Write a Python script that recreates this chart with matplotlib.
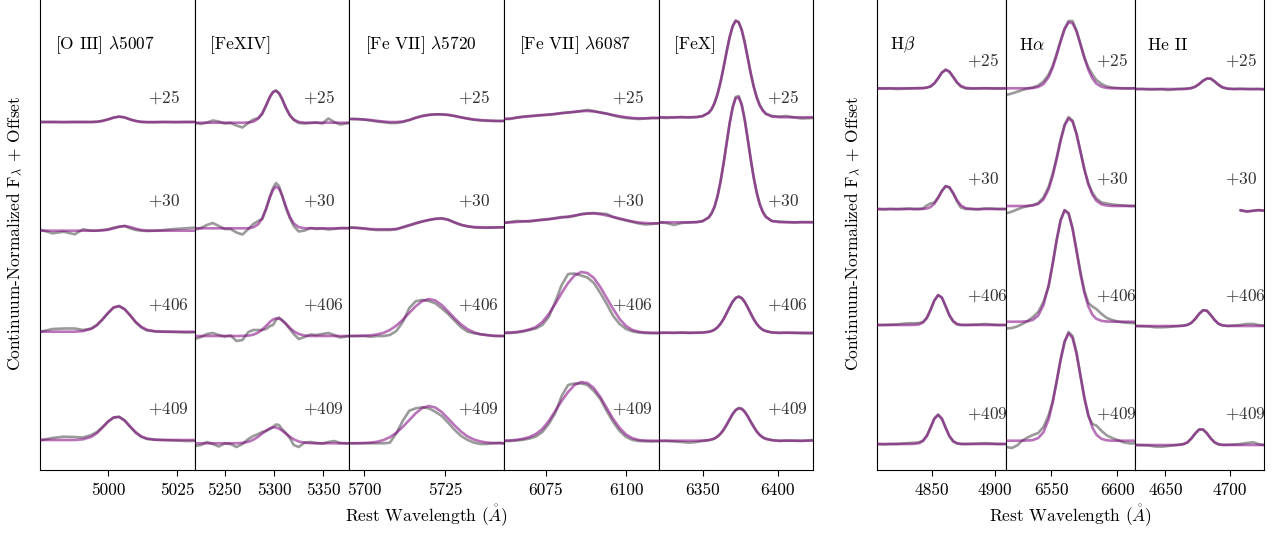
import numpy as np
import matplotlib
matplotlib.use('Agg')
import matplotlib.pyplot as plt

plt.rcParams['font.family'] = 'serif'
plt.rcParams['font.serif'] = ['cmr10']
plt.rcParams['mathtext.fontset'] = 'cm'
plt.rcParams['axes.formatter.use_mathtext'] = True
plt.rcParams['axes.unicode_minus'] = False

# ---------------- data ----------------
epochs = ['+25', '+30', '+406', '+409']
left_offsets = [2.48, 1.41, 0.37, -0.71]
right_offsets = [2.815, 1.625, 0.46, -0.73]

# [O III] 5007
oiii_wave = [4976, 4980, 4984, 4988, 4991, 4994, 4996, 4998, 5000, 5002, 5004,
             5006, 5008, 5010, 5012, 5014, 5017, 5020, 5024, 5028, 5031]
oiii_fit = [
    [1.0, 1.0, 1.0, 1.0, 1.0, 1.0, 1.002, 1.01, 1.025, 1.043, 1.053, 1.045, 1.025, 1.01, 1.002, 1.0, 1.0, 1.0, 1.0, 1.0, 1.0],
    [0.983, 0.983, 0.983, 0.983, 0.983, 0.983, 0.984, 0.986, 0.992, 1.006, 1.022, 1.03, 1.02, 1.003, 0.99, 0.984, 0.983, 0.983, 0.983, 0.983, 0.983],
    [1.013, 1.013, 1.013, 1.013, 1.019, 1.042, 1.078, 1.136, 1.20, 1.255, 1.269, 1.237, 1.176, 1.11, 1.062, 1.033, 1.017, 1.013, 1.013, 1.013, 1.013],
    [1.01, 1.01, 1.01, 1.01, 1.017, 1.041, 1.078, 1.133, 1.193, 1.235, 1.24, 1.204, 1.145, 1.088, 1.047, 1.025, 1.013, 1.01, 1.01, 1.01, 1.01],
]
oiii_obs = [
    [1.0, 1.0, 0.998, 1.0, 1.0, 1.0, 1.003, 1.012, 1.027, 1.045, 1.055, 1.046, 1.026, 1.01, 1.0, 0.997, 0.997, 1.0, 0.998, 1.0, 1.0],
    [0.99, 0.957, 0.973, 0.947, 0.997, 0.983, 0.983, 0.99, 0.997, 1.013, 1.023, 1.03, 1.007, 0.99, 0.983, 0.98, 0.983, 0.99, 1.0, 1.007, 1.013],
    [1.015, 1.04, 1.045, 1.045, 1.03, 1.045, 1.08, 1.135, 1.2, 1.255, 1.27, 1.238, 1.175, 1.105, 1.055, 1.025, 1.015, 1.013, 1.01, 1.005, 1.007],
    [1.01, 1.03, 1.043, 1.04, 1.035, 1.06, 1.09, 1.14, 1.195, 1.235, 1.243, 1.205, 1.14, 1.08, 1.04, 1.02, 1.012, 1.01, 1.005, 1.0, 1.0],
]

# [FeXIV]
fexiv_wave = [5220, 5226, 5232, 5238, 5244, 5250, 5256, 5262, 5268, 5274, 5279, 5284, 5288, 5292, 5296, 5299,
              5302, 5305, 5308, 5312, 5316, 5320, 5325, 5331, 5337, 5343, 5349, 5355, 5361, 5367, 5376]
fexiv_fit = [
    [0.993, 0.993, 0.993, 0.993, 0.993, 0.993, 0.993, 0.993, 0.993, 0.995, 1.003, 1.033, 1.086, 1.167, 1.254, 1.30,
     1.312, 1.287, 1.233, 1.145, 1.07, 1.025, 1.001, 0.993, 0.993, 0.993, 0.993, 0.993, 0.993, 0.993, 0.993],
    [1.007, 1.007, 1.007, 1.007, 1.007, 1.007, 1.007, 1.007, 1.007, 1.007, 1.017, 1.047, 1.106, 1.204, 1.32, 1.391,
     1.423, 1.404, 1.342, 1.227, 1.123, 1.056, 1.019, 1.008, 1.007, 1.007, 1.007, 1.007, 1.007, 1.007, 1.007],
    [0.97, 0.97, 0.97, 0.97, 0.97, 0.97, 0.97, 0.97, 0.971, 0.974, 0.983, 1.005, 1.034, 1.072, 1.112, 1.135,
     1.146, 1.144, 1.128, 1.093, 1.052, 1.018, 0.99, 0.975, 0.97, 0.97, 0.97, 0.97, 0.97, 0.97, 0.97],
    [0.977, 0.977, 0.977, 0.977, 0.977, 0.977, 0.977, 0.978, 0.981, 0.992, 1.012, 1.043, 1.074, 1.105, 1.128, 1.137,
     1.135, 1.124, 1.105, 1.074, 1.043, 1.017, 0.995, 0.983, 0.978, 0.977, 0.977, 0.977, 0.977, 0.977, 0.977],
]
fexiv_obs = [
    [0.99, 0.98, 0.995, 1.015, 1.005, 0.985, 0.99, 0.965, 0.945, 0.99, 1.025, 1.04, 1.08, 1.165, 1.255, 1.30,
     1.315, 1.29, 1.235, 1.14, 1.065, 1.02, 0.99, 0.985, 0.99, 0.995, 0.985, 1.035, 1.0, 0.975, 0.99],
    [0.995, 1.01, 1.04, 1.06, 1.03, 1.0, 1.0, 0.965, 0.945, 1.0, 1.05, 1.08, 1.10, 1.2, 1.33, 1.41,
     1.46, 1.43, 1.34, 1.21, 1.11, 1.03, 0.975, 0.985, 1.01, 1.0, 1.005, 0.995, 1.0, 1.01, 1.01],
    [0.94, 0.96, 0.99, 1.0, 0.98, 0.965, 0.975, 0.92, 0.93, 1.01, 1.03, 1.03, 1.03, 1.04, 1.07, 1.08,
     1.13, 1.155, 1.13, 1.09, 1.04, 0.99, 0.94, 0.96, 0.985, 0.98, 0.99, 1.0, 0.98, 0.955, 0.97],
    [0.95, 0.96, 0.99, 0.97, 0.945, 0.975, 0.97, 0.94, 0.97, 1.02, 1.05, 1.07, 1.09, 1.10, 1.12, 1.14,
     1.165, 1.16, 1.12, 1.08, 1.03, 0.96, 0.94, 0.985, 0.99, 0.98, 0.975, 0.99, 1.0, 0.98, 0.975],
]

# [Fe VII] 5720
fevii_a_wave = [5696, 5698, 5700, 5702, 5704, 5706, 5708, 5710, 5712, 5714, 5716, 5718, 5720,
                5722, 5724, 5726, 5728, 5730, 5732, 5734, 5736, 5738, 5740, 5742, 5743]
fevii_a_fit = [
    [1.03, 1.028, 1.025, 1.02, 1.012, 1.005, 1.0, 1.0, 1.005, 1.02, 1.04, 1.058, 1.07, 1.076, 1.077, 1.072, 1.06, 1.045, 1.035, 1.025, 1.02, 1.015, 1.012, 1.01, 1.01],
    [1.013, 1.01, 1.005, 1.0, 0.997, 0.997, 0.997, 1.0, 1.015, 1.035, 1.055, 1.075, 1.09, 1.103, 1.105, 1.09, 1.065, 1.042, 1.028, 1.02, 1.017, 1.015, 1.015, 1.016, 1.017],
    [0.97, 0.971, 0.973, 0.977, 0.985, 1.001, 1.03, 1.074, 1.133, 1.201, 1.268, 1.319, 1.34, 1.326, 1.28, 1.215, 1.146, 1.085, 1.038, 1.006, 0.987, 0.978, 0.973, 0.97, 0.97],
    [0.977, 0.978, 0.98, 0.984, 0.992, 1.009, 1.038, 1.082, 1.141, 1.21, 1.278, 1.33, 1.35, 1.335, 1.29, 1.224, 1.155, 1.093, 1.045, 1.014, 0.995, 0.985, 0.98, 0.977, 0.977],
]
fevii_a_obs = [
    [1.03, 1.03, 1.024, 1.015, 1.005, 0.998, 0.99, 0.99, 1.0, 1.02, 1.045, 1.062, 1.072, 1.077, 1.075, 1.07, 1.06, 1.047, 1.033, 1.022, 1.015, 1.012, 1.01, 1.01, 1.012],
    [1.015, 1.012, 1.005, 0.995, 0.99, 0.99, 0.99, 0.997, 1.02, 1.04, 1.06, 1.075, 1.09, 1.1, 1.108, 1.095, 1.065, 1.04, 1.025, 1.015, 1.012, 1.012, 1.015, 1.017, 1.017],
    [0.97, 0.97, 0.97, 0.963, 0.97, 0.97, 0.98, 1.02, 1.11, 1.25, 1.318, 1.33, 1.32, 1.297, 1.247, 1.19, 1.123, 1.057, 1.013, 0.997, 0.987, 0.98, 0.97, 0.97, 0.97],
    [0.977, 0.977, 0.977, 0.977, 0.977, 0.977, 0.983, 1.077, 1.203, 1.303, 1.327, 1.337, 1.327, 1.293, 1.25, 1.183, 1.11, 1.05, 1.01, 0.983, 0.97, 0.97, 0.977, 0.983, 0.977],
]

# [Fe VII] 6087
fevii_b_wave = [6062, 6064, 6066, 6068, 6070, 6072, 6074, 6076, 6078, 6080, 6082, 6084, 6086,
                6088, 6090, 6092, 6094, 6096, 6098, 6100, 6102, 6104, 6106, 6108, 6110]
fevii_b_fit = [
    [1.03, 1.035, 1.042, 1.05, 1.058, 1.065, 1.07, 1.075, 1.08, 1.088, 1.095, 1.102, 1.108, 1.11, 1.105, 1.095, 1.082, 1.07, 1.058, 1.048, 1.04, 1.037, 1.037, 1.04, 1.04],
    [1.063, 1.066, 1.07, 1.075, 1.08, 1.085, 1.09, 1.097, 1.105, 1.115, 1.125, 1.135, 1.145, 1.155, 1.155, 1.148, 1.135, 1.12, 1.105, 1.09, 1.075, 1.065, 1.06, 1.057, 1.057],
    [1.003, 1.005, 1.01, 1.02, 1.035, 1.06, 1.11, 1.19, 1.29, 1.40, 1.50, 1.575, 1.61, 1.60, 1.55, 1.46, 1.35, 1.24, 1.14, 1.07, 1.03, 1.012, 1.005, 1.003, 1.003],
    [1.003, 1.006, 1.012, 1.022, 1.04, 1.07, 1.12, 1.20, 1.30, 1.40, 1.49, 1.56, 1.59, 1.58, 1.53, 1.44, 1.33, 1.22, 1.13, 1.065, 1.028, 1.01, 1.005, 1.003, 1.003],
]
fevii_b_obs = [
    [1.03, 1.03, 1.045, 1.055, 1.058, 1.062, 1.068, 1.072, 1.08, 1.09, 1.095, 1.1, 1.11, 1.12, 1.11, 1.095, 1.085, 1.065, 1.05, 1.04, 1.035, 1.03, 1.035, 1.04, 1.04],
    [1.06, 1.07, 1.08, 1.078, 1.075, 1.085, 1.095, 1.1, 1.11, 1.12, 1.118, 1.13, 1.15, 1.155, 1.16, 1.155, 1.15, 1.12, 1.1, 1.085, 1.07, 1.055, 1.045, 1.05, 1.057],
    [1.0, 1.0, 1.005, 1.015, 1.03, 1.045, 1.08, 1.16, 1.31, 1.48, 1.59, 1.595, 1.575, 1.555, 1.50, 1.40, 1.29, 1.17, 1.09, 1.04, 1.015, 1.005, 1.0, 0.997, 0.997],
    [1.0, 1.0, 1.005, 1.012, 1.025, 1.045, 1.09, 1.17, 1.28, 1.45, 1.56, 1.575, 1.575, 1.56, 1.50, 1.42, 1.30, 1.19, 1.10, 1.04, 1.01, 1.0, 0.997, 0.995, 0.997],
]

# [FeX]
fex_wave = [6321, 6326, 6331, 6336, 6341, 6346, 6350, 6354, 6356, 6358, 6360, 6362, 6364, 6366, 6368, 6370, 6372,
            6374, 6376, 6378, 6380, 6382, 6384, 6386, 6388, 6390, 6392, 6396, 6401, 6406, 6411, 6416, 6423]
fex_fit = [
    [1.047, 1.047, 1.047, 1.047, 1.047, 1.049, 1.058, 1.092, 1.130, 1.192, 1.283, 1.403, 1.548, 1.703, 1.847, 1.957, 2.010,
     1.996, 1.919, 1.793, 1.641, 1.487, 1.351, 1.243, 1.164, 1.113, 1.081, 1.055, 1.048, 1.047, 1.047, 1.047, 1.047],
    [1.067, 1.067, 1.067, 1.067, 1.067, 1.068, 1.077, 1.114, 1.158, 1.228, 1.334, 1.479, 1.659, 1.859, 2.055, 2.214, 2.307,
     2.316, 2.239, 2.090, 1.900, 1.698, 1.512, 1.360, 1.246, 1.169, 1.121, 1.080, 1.068, 1.067, 1.067, 1.067, 1.067],
    [1.003, 1.003, 1.003, 1.003, 1.003, 1.003, 1.004, 1.011, 1.019, 1.033, 1.057, 1.093, 1.140, 1.197, 1.257, 1.312, 1.349,
     1.363, 1.349, 1.312, 1.257, 1.197, 1.140, 1.093, 1.057, 1.033, 1.019, 1.006, 1.003, 1.003, 1.003, 1.003, 1.003],
    [1.003, 1.003, 1.003, 1.003, 1.003, 1.003, 1.004, 1.009, 1.015, 1.026, 1.046, 1.075, 1.115, 1.164, 1.219, 1.270, 1.308,
     1.326, 1.320, 1.291, 1.245, 1.191, 1.139, 1.093, 1.059, 1.035, 1.020, 1.007, 1.003, 1.003, 1.003, 1.003, 1.003],
]
fex_obs = [
    [1.045, 1.04, 1.045, 1.05, 1.045, 1.05, 1.06, 1.09, 1.125, 1.19, 1.28, 1.405, 1.55, 1.705, 1.85, 1.96, 2.015,
     2.0, 1.925, 1.80, 1.645, 1.49, 1.355, 1.25, 1.17, 1.12, 1.085, 1.06, 1.055, 1.06, 1.045, 1.035, 1.04],
    [1.065, 1.06, 1.04, 1.06, 1.065, 1.07, 1.08, 1.115, 1.155, 1.22, 1.33, 1.48, 1.66, 1.86, 2.06, 2.22, 2.32,
     2.33, 2.25, 2.10, 1.905, 1.70, 1.515, 1.365, 1.25, 1.175, 1.125, 1.08, 1.075, 1.07, 1.065, 1.07, 1.068],
    [1.0, 1.003, 1.0, 1.005, 1.0, 1.003, 1.005, 1.012, 1.02, 1.035, 1.058, 1.095, 1.14, 1.2, 1.26, 1.315, 1.352,
     1.365, 1.35, 1.31, 1.255, 1.195, 1.135, 1.088, 1.055, 1.032, 1.02, 1.005, 1.0, 1.003, 1.0, 0.997, 0.995],
    [1.0, 1.0, 0.995, 0.99, 0.983, 0.99, 1.0, 1.008, 1.015, 1.025, 1.045, 1.072, 1.11, 1.16, 1.215, 1.27, 1.31,
     1.33, 1.325, 1.295, 1.25, 1.195, 1.145, 1.097, 1.062, 1.038, 1.025, 1.01, 1.0, 1.005, 1.003, 1.0, 1.01],
]

# H beta
hb_wave = [4807, 4812, 4817, 4822, 4827, 4832, 4836, 4840, 4843, 4846, 4849, 4852, 4855,
           4858, 4861, 4864, 4867, 4870, 4873, 4877, 4882, 4887, 4892, 4897, 4902, 4908]
hb_fit = [
    [1.002, 1.002, 1.002, 1.002, 1.002, 1.002, 1.002, 1.002, 1.003, 1.008, 1.021, 1.053, 1.103, 1.158, 1.185, 1.166, 1.115, 1.061, 1.026, 1.007, 1.002, 1.002, 1.002, 1.002, 1.002, 1.002],
    [0.985, 0.985, 0.985, 0.985, 0.985, 0.985, 0.985, 0.985, 0.986, 0.99, 1.004, 1.037, 1.096, 1.166, 1.212, 1.202, 1.144, 1.074, 1.023, 0.993, 0.985, 0.985, 0.985, 0.985, 0.985, 0.985],
    [0.99, 0.99, 0.99, 0.99, 0.99, 0.99, 0.991, 0.996, 1.014, 1.059, 1.14, 1.234, 1.288, 1.264, 1.178, 1.087, 1.028, 1.001, 0.992, 0.99, 0.99, 0.99, 0.99, 0.99, 0.99, 0.99],
    [0.99, 0.99, 0.99, 0.99, 0.99, 0.99, 0.991, 0.998, 1.019, 1.07, 1.153, 1.241, 1.28, 1.241, 1.153, 1.07, 1.019, 0.998, 0.991, 0.99, 0.99, 0.99, 0.99, 0.99, 0.99, 0.99],
]
hb_obs = [
    [1.0, 0.998, 1.0, 0.995, 0.997, 1.0, 1.003, 1.005, 1.005, 1.01, 1.02, 1.05, 1.10, 1.16, 1.19, 1.17, 1.115, 1.06, 1.02, 1.0, 0.998, 1.0, 1.003, 1.0, 0.998, 1.0],
    [0.985, 0.98, 0.985, 0.982, 0.985, 0.99, 0.985, 0.985, 0.99, 1.02, 1.04, 1.05, 1.10, 1.165, 1.215, 1.20, 1.14, 1.06, 1.0, 0.985, 0.985, 0.98, 0.99, 0.99, 0.985, 0.985],
    [0.99, 0.99, 0.993, 0.995, 1.003, 1.007, 1.007, 1.01, 1.02, 1.06, 1.14, 1.235, 1.29, 1.265, 1.175, 1.085, 1.025, 0.995, 0.99, 0.99, 0.993, 0.995, 1.0, 0.995, 0.99, 0.99],
    [0.99, 0.985, 0.99, 0.99, 0.995, 1.0, 1.002, 1.008, 1.025, 1.07, 1.155, 1.245, 1.285, 1.245, 1.15, 1.065, 1.015, 0.995, 0.99, 0.99, 0.992, 0.995, 0.998, 0.995, 0.99, 0.99],
]

# H alpha
ha_wave = [6516, 6520, 6524, 6528, 6532, 6536, 6540, 6544, 6548, 6551, 6554, 6557, 6560, 6563,
           6566, 6569, 6572, 6575, 6578, 6581, 6584, 6588, 6592, 6596, 6600, 6605, 6610, 6613]
ha_fit = [
    [1.002, 1.002, 1.002, 1.002, 1.002, 1.005, 1.015, 1.044, 1.115, 1.207, 1.332, 1.471, 1.593, 1.661,
     1.653, 1.572, 1.444, 1.305, 1.186, 1.101, 1.049, 1.017, 1.005, 1.002, 1.002, 1.002, 1.002, 1.002],
    [1.015, 1.015, 1.015, 1.015, 1.015, 1.02, 1.035, 1.08, 1.184, 1.315, 1.485, 1.668, 1.818, 1.89,
     1.859, 1.735, 1.56, 1.379, 1.231, 1.128, 1.068, 1.031, 1.019, 1.015, 1.015, 1.015, 1.015, 1.015],
    [1.023, 1.023, 1.023, 1.024, 1.027, 1.041, 1.083, 1.188, 1.393, 1.606, 1.84, 2.036, 2.136, 2.104,
     1.953, 1.732, 1.501, 1.309, 1.174, 1.093, 1.052, 1.031, 1.025, 1.023, 1.023, 1.023, 1.023, 1.023],
    [1.023, 1.023, 1.023, 1.023, 1.025, 1.029, 1.05, 1.107, 1.239, 1.403, 1.614, 1.837, 2.016, 2.096,
     2.049, 1.892, 1.675, 1.456, 1.278, 1.155, 1.084, 1.041, 1.027, 1.023, 1.023, 1.023, 1.023, 1.023],
]
ha_obs = [
    [0.935, 0.95, 0.967, 0.985, 1.0, 1.01, 1.03, 1.07, 1.14, 1.23, 1.35, 1.48, 1.60, 1.675,
     1.675, 1.58, 1.44, 1.31, 1.21, 1.14, 1.085, 1.045, 1.02, 1.01, 1.005, 1.0, 1.0, 1.002],
    [0.942, 0.958, 0.98, 1.0, 1.015, 1.025, 1.045, 1.10, 1.21, 1.34, 1.50, 1.68, 1.83, 1.905,
     1.87, 1.74, 1.56, 1.38, 1.24, 1.15, 1.09, 1.05, 1.04, 1.03, 1.025, 1.02, 1.015, 1.015],
    [0.955, 0.96, 0.975, 1.0, 1.03, 1.07, 1.12, 1.22, 1.38, 1.60, 1.84, 2.04, 2.14, 2.11,
     1.96, 1.74, 1.52, 1.33, 1.21, 1.175, 1.15, 1.10, 1.06, 1.04, 1.025, 1.015, 1.01, 1.007],
    [0.96, 0.95, 0.975, 1.025, 1.055, 1.08, 1.10, 1.16, 1.28, 1.42, 1.62, 1.83, 2.01, 2.11,
     2.07, 1.91, 1.67, 1.44, 1.27, 1.19, 1.175, 1.12, 1.075, 1.05, 1.03, 1.005, 0.995, 0.997],
]

# He II
heii_wave = [4627, 4632, 4637, 4642, 4647, 4652, 4656, 4660, 4664, 4667, 4670, 4673, 4676,
             4679, 4682, 4685, 4688, 4691, 4694, 4698, 4703, 4708, 4713, 4718, 4722, 4726]
heii_fit = [
    [0.995, 0.995, 0.995, 0.995, 0.995, 0.995, 0.995, 0.995, 0.995, 0.997, 1.003, 1.017, 1.043,
     1.076, 1.099, 1.098, 1.072, 1.039, 1.014, 0.999, 0.995, 0.995, 0.995, 0.995, 0.995, 0.995],
    [None, None, None, None, None, None, None, None, None, None, None, None, None,
     None, None, None, None, None, None, None, None, 0.97, 0.962, 0.967, 0.972, 0.97],
    [0.98, 0.98, 0.98, 0.98, 0.98, 0.98, 0.98, 0.98, 0.982, 0.99, 1.01, 1.05, 1.101,
     1.136, 1.132, 1.091, 1.041, 1.005, 0.988, 0.981, 0.98, 0.98, 0.98, 0.98, 0.98, 0.98],
    [0.98, 0.98, 0.98, 0.98, 0.98, 0.98, 0.98, 0.981, 0.988, 1.007, 1.044, 1.094, 1.134,
     1.135, 1.097, 1.047, 1.008, 0.989, 0.982, 0.98, 0.98, 0.98, 0.98, 0.98, 0.98, 0.98],
]
heii_obs = [
    [0.995, 0.995, 0.99, 0.99, 0.993, 0.985, 0.99, 0.995, 0.997, 1.0, 1.005, 1.02, 1.045,
     1.078, 1.1, 1.1, 1.07, 1.035, 1.01, 0.997, 0.995, 0.998, 0.995, 0.993, 0.995, 0.99],
    [None, None, None, None, None, None, None, None, None, None, None, None, None,
     None, None, None, None, None, None, None, None, 0.975, 0.958, 0.968, 0.975, 0.968],
    [0.98, 0.978, 0.975, 0.967, 0.967, 0.97, 0.975, 0.98, 0.985, 0.993, 1.012, 1.05, 1.10,
     1.138, 1.135, 1.09, 1.04, 1.0, 0.985, 0.98, 0.985, 0.99, 1.0, 1.0, 0.99, 0.985],
    [0.98, 0.978, 0.975, 0.965, 0.963, 0.97, 0.975, 0.983, 0.99, 1.005, 1.045, 1.095, 1.135,
     1.135, 1.1, 1.045, 1.005, 0.985, 0.98, 0.983, 0.985, 0.99, 1.0, 1.007, 0.99, 0.98],
]

left_titles = [r'[O III] $\lambda$5007', '[FeXIV]', r'[Fe VII] $\lambda$5720', r'[Fe VII] $\lambda$6087', '[FeX]']
left_waves = [oiii_wave, fexiv_wave, fevii_a_wave, fevii_b_wave, fex_wave]
left_fits = [oiii_fit, fexiv_fit, fevii_a_fit, fevii_b_fit, fex_fit]
left_obs = [oiii_obs, fexiv_obs, fevii_a_obs, fevii_b_obs, fex_obs]
left_xlims = [(4975.5, 5031.2), (5219.6, 5376.3), (5695.5, 5743.2), (6062.1, 6110.1), (6320.8, 6423.6)]
left_ticks = [[5000, 5025], [5250, 5300, 5350], [5700, 5725], [6075, 6100], [6350, 6400]]

right_titles = [r'H$\beta$', r'H$\alpha$', 'He II']
right_waves = [hb_wave, ha_wave, heii_wave]
right_fits = [hb_fit, ha_fit, heii_fit]
right_obs = [hb_obs, ha_obs, heii_obs]
right_xlims = [(4806.3, 4908.7), (6515.5, 6613.2), (4626.3, 4726.3)]
right_ticks = [[4850, 4900], [6550, 6600], [4650, 4700]]

# ---------------- layout / style ----------------
W, H = 1279, 533
fig = plt.figure(figsize=(W / 100, H / 100), dpi=100)
bottom = (H - 470) / H
height = 1.0 - bottom
YLIM = (0, 4.70)
left_label_y = [3.727, 2.69, 1.65, 0.617]
right_label_y = [4.10, 2.917, 1.743, 0.567]
OBS_COLOR = '#9a9a9a'
FIT_COLOR = 'purple'
FS = 12.5


def draw_group(x0_px, x1_px, titles, waves, fits, obs, xlims, ticks, offsets, label_y):
    n = len(titles)
    w = (x1_px - x0_px) / n
    axes = []
    for i in range(n):
        ax = fig.add_axes([(x0_px + i * w) / W, bottom, w / W, height])
        wl = np.array(waves[i], dtype=float)
        for k in range(4):
            o = np.array(obs[i][k], dtype=float) + offsets[k]
            f = np.array(fits[i][k], dtype=float) + offsets[k]
            ax.plot(wl, o, color=OBS_COLOR, lw=1.9, solid_capstyle='round',
                    solid_joinstyle='round', zorder=2)
            ax.plot(wl, f, color=FIT_COLOR, lw=1.9, alpha=0.55, solid_capstyle='round',
                    solid_joinstyle='round', zorder=3)
            ax.text(0.70, label_y[k], r'$' + epochs[k] + '$', transform=ax.get_yaxis_transform(),
                    fontsize=FS, va='center', ha='left', color='0.2')
        ax.text(0.10, 0.904, titles[i], transform=ax.transAxes, fontsize=FS,
                va='center', ha='left')
        ax.set_xlim(*xlims[i])
        ax.set_ylim(*YLIM)
        ax.set_yticks([])
        ax.set_xticks(ticks[i])
        ax.set_xticklabels([str(t) for t in ticks[i]], fontsize=FS)
        ax.tick_params(axis='x', direction='out', length=4, width=0.8, pad=5)
        ax.spines['top'].set_visible(False)
        axes.append(ax)
    return axes


draw_group(40, 813.3, left_titles, left_waves, left_fits, left_obs,
           left_xlims, left_ticks, left_offsets, left_label_y)
draw_group(876.7, 1264, right_titles, right_waves, right_fits, right_obs,
           right_xlims, right_ticks, right_offsets, right_label_y)

xlabel = r'Rest Wavelength ($\mathring{A}$)'
ylabel = r'Continuum-Normalized F$_\lambda$ + Offset'
fig.text(426.5 / W, (H - 516) / H, xlabel, ha='center', va='center', fontsize=FS)
fig.text(1070.3 / W, (H - 516) / H, xlabel, ha='center', va='center', fontsize=FS)
fig.text(15 / W, (H - 233) / H, ylabel, rotation=90, ha='center', va='center', fontsize=FS)
fig.text(853 / W, (H - 233) / H, ylabel, rotation=90, ha='center', va='center', fontsize=FS)

fig.savefig('out.png', dpi=100)
